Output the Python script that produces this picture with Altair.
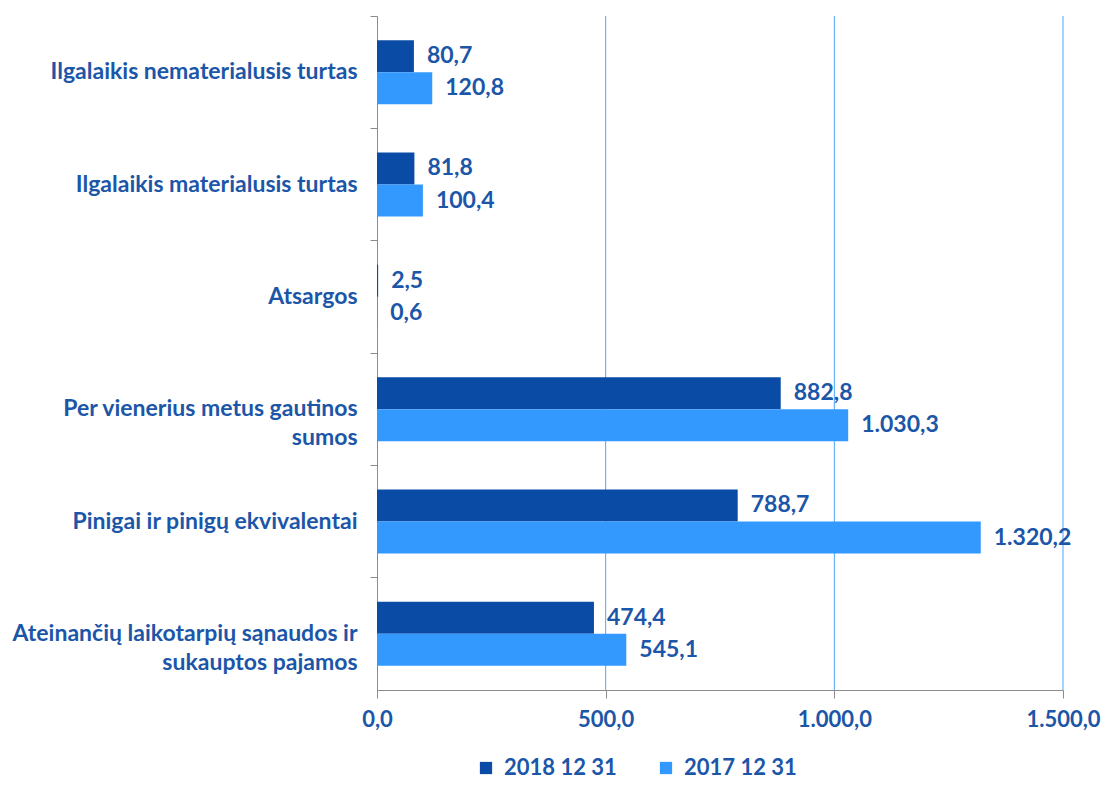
import altair as alt
import pandas as pd

categories = [
    "Ilgalaikis nematerialusis turtas",
    "Ilgalaikis materialusis turtas",
    "Atsargos",
    "Per vienerius metus gautinos sumos",
    "Pinigai ir pinigų ekvivalentai",
    "Ateinančių laikotarpių sąnaudos ir sukauptos pajamos",
]
series = ["2018 12 31", "2017 12 31"]
values_2018 = [80.7, 81.8, 2.5, 882.8, 788.7, 474.4]
values_2017 = [120.8, 100.4, 0.6, 1030.3, 1320.2, 545.1]
x_ticks = [0, 500, 1000, 1500]
wrapped = {
    "Per vienerius metus gautinos sumos": ["Per vienerius metus gautinos", "sumos"],
    "Ateinančių laikotarpių sąnaudos ir sukauptos pajamos": ["Ateinančių laikotarpių sąnaudos ir", "sukauptos pajamos"],
}
colors = ["#0A4BA6", "#3399FF"]
grid_color = "#4DA6FF"
text_color = "#1B56A8"
font = "Lato"

rows = []
for c, a, b in zip(categories, values_2018, values_2017):
    rows.append({"cat": c, "series": series[0], "value": a})
    rows.append({"cat": c, "series": series[1], "value": b})
df = pd.DataFrame(rows)
grid_df = pd.DataFrame({"tick": x_ticks[1:]})


def lt_fmt(field):
    return ("replace(replace(replace(format(" + field + ", ',.1f'), ',', '#'), '.', ','), '#', '.')")


label_expr = ""
for k, v in wrapped.items():
    label_expr += "datum.value == '" + k + "' ? ['" + v[0] + "', '" + v[1] + "'] : "
label_expr += "datum.value"

x_axis = alt.Axis(
    values=x_ticks, labelExpr=lt_fmt("datum.value"), title=None, grid=False,
    domainColor="#8C8C8C", tickColor="#8C8C8C", tickSize=8,
    labelPadding=11, labelFontSize=22, labelFont=font, labelFontWeight="bold",
    labelColor=text_color, labelFlush=False,
)
x_scale = alt.Scale(domain=[0, 1500], nice=False)
y_scale = alt.Scale(paddingInner=0, paddingOuter=0)
yoff = alt.YOffset("series:N", sort=series, scale=alt.Scale(paddingOuter=0.755, paddingInner=0))
color = alt.Color(
    "series:N", sort=series,
    scale=alt.Scale(domain=series, range=colors),
    legend=alt.Legend(
        title=None, orient="none", legendX=98, legendY=741, direction="horizontal",
        symbolType="square", symbolSize=150, symbolStrokeWidth=0,
        labelFontSize=22, labelFont=font, labelFontWeight="bold", labelColor=text_color,
        columnPadding=38, labelLimit=300, labelOffset=7,
    ),
)

grid = alt.Chart(grid_df).mark_rule(color=grid_color, strokeWidth=1).encode(
    x=alt.X("tick:Q", scale=x_scale, axis=x_axis),
)

bars = alt.Chart(df).mark_bar().encode(
    x=alt.X("value:Q", scale=x_scale, axis=x_axis),
    y=alt.Y("cat:N", sort=categories, scale=y_scale, axis=alt.Axis(
        title=None, ticks=False, domainColor="#8C8C8C", labelExpr=label_expr,
        labelFontSize=23, labelFont=font, labelFontWeight="bold", labelColor=text_color,
        labelPadding=20, labelLimit=400, labelLineHeight=29, grid=False, orient="left",
    )),
    yOffset=yoff,
    color=color,
)

texts = alt.Chart(df).transform_calculate(
    label=lt_fmt("datum.value")
).mark_text(
    align="left", baseline="middle", dx=13, fontSize=23, font=font,
    fontWeight="bold", color=text_color,
).encode(
    x=alt.X("value:Q", scale=x_scale, axis=x_axis),
    y=alt.Y("cat:N", sort=categories, scale=y_scale, axis=alt.Axis(
        title=None, labels=False, ticks=True, bandPosition=0, domain=False,
        tickSize=7, tickColor="#8C8C8C", grid=False, orient="left",
    )),
    yOffset=yoff,
    text="label:N",
)

chart = alt.layer(grid, bars, texts).resolve_axis(y="independent").properties(
    width=686, height=674,
    autosize=alt.AutoSizeParams(type="none"),
    padding={"left": 369, "top": 8, "right": 38, "bottom": 90},
).configure_view(stroke=None)

chart.save("out.html", embed_options={"renderer": "svg", "actions": False})
